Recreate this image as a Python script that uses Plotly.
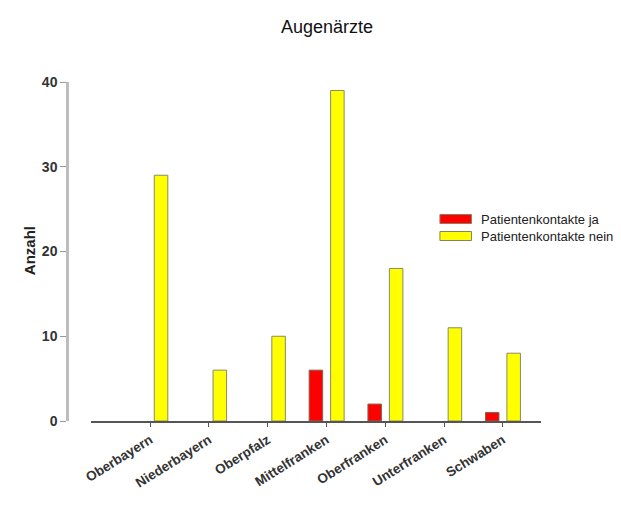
import plotly.graph_objects as go

categories = ["Oberbayern", "Niederbayern", "Oberpfalz", "Mittelfranken",
              "Oberfranken", "Unterfranken", "Schwaben"]
kontakte_ja = [0, 0, 0, 6, 2, 0, 1]
kontakte_nein = [29, 6, 10, 39, 18, 11, 8]
series_names = ["Patientenkontakte ja", "Patientenkontakte nein"]
series_colors = ["#ff0000", "#ffff00"]
y_ticks = [0, 10, 20, 30, 40]

W, H = 621, 506
L, R, T, B = 67.3, 541.0, 82.0, 421.0  # plot area in pixels
PW, PH = R - L, B - T


def px(x):
    return (x - L) / PW


def py(y):
    return (B - y) / PH


def outline_widths(values):
    return [0 if v == 0 else 1 for v in values]


fig = go.Figure()
fig.add_trace(go.Bar(
    x=categories, y=kontakte_ja, name=series_names[0],
    marker=dict(color=series_colors[0],
                line=dict(color="#7a6a50", width=outline_widths(kontakte_ja))),
    width=0.23, offset=-0.295, showlegend=False,
))
fig.add_trace(go.Bar(
    x=categories, y=kontakte_nein, name=series_names[1],
    marker=dict(color=series_colors[1],
                line=dict(color="#8a8a60", width=outline_widths(kontakte_nein))),
    width=0.23, offset=0.07, showlegend=False,
))

# legend (wide swatches like the original)
shapes = []
annotations = []
legend_rows = [(214.5, 223.5), (231.5, 240.5)]
for (y0, y1), name, col in zip(legend_rows, series_names, series_colors):
    shapes.append(dict(type="rect", xref="paper", yref="paper",
                       x0=px(440), x1=px(471.5), y0=py(y1), y1=py(y0),
                       fillcolor=col, line=dict(color="#8a8060", width=1)))
    annotations.append(dict(text=name, x=px(479), y=py((y0 + y1) / 2),
                            xref="paper", yref="paper", xanchor="left",
                            yanchor="middle", showarrow=False,
                            font=dict(size=13, color="#222")))

annotations.append(dict(text="<b>Anzahl</b>", textangle=-90, x=px(19), y=py(251),
                        xref="paper", yref="paper", showarrow=False,
                        font=dict(size=15, color="#222")))

fig.update_layout(
    width=W, height=H,
    margin=dict(l=L, r=W - R, t=T, b=H - B, pad=0),
    paper_bgcolor="white", plot_bgcolor="white",
    barmode="overlay",
    showlegend=False,
    font=dict(family="Liberation Sans, Arial, sans-serif", color="#222"),
    title=dict(text="Augenärzte", x=327 / W, xanchor="center",
               xref="container", yref="container",
               y=1 - 27 / H, yanchor="middle",
               font=dict(size=18, color="#111")),
    xaxis=dict(
        domain=[px(91.7), 1],
        range=[-1.0, 6.65],
        automargin=False,
        showline=True, linecolor="#555", linewidth=2,
        ticks="outside", ticklen=4, tickcolor="#555", tickwidth=1,
        tickangle=-32,
        tickfont=dict(size=13.5, weight="bold", color="#333"),
        showgrid=False, zeroline=False,
    ),
    yaxis=dict(
        domain=[0, 1],
        range=[0, 40],
        anchor="free", position=0,
        automargin=False,
        tickvals=y_ticks,
        showline=True, linecolor="#bdbdbd", linewidth=2.5,
        ticks="outside", ticklen=6, tickcolor="#999", tickwidth=1,
        tickfont=dict(size=14, weight="bold", color="#333"),
        showgrid=False, zeroline=False,
    ),
    shapes=shapes,
    annotations=annotations,
)

fig.write_html("out.html",
               config={"displayModeBar": False},
               post_script="document.body.style.margin='0px';")
